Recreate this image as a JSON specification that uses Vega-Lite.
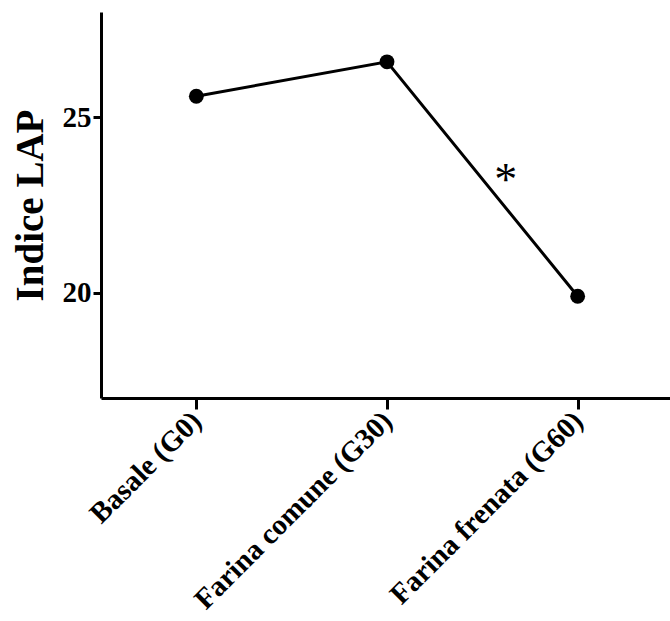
{
  "$schema": "https://vega.github.io/schema/vega-lite/v6.json",
  "autosize": "none",
  "width": 572,
  "height": 386,
  "padding": {"left": 101, "top": 12, "right": 0, "bottom": 223},
  "background": "white",
  "config": {"view": {"stroke": null}, "font": "Liberation Serif"},
  "data": {"values": [
    {"gruppo": "Basale (G0)", "lap": 25.6},
    {"gruppo": "Farina comune (G30)", "lap": 26.58},
    {"gruppo": "Farina frenata (G60)", "lap": 19.9}
  ]},
  "encoding": {
    "x": {"field": "gruppo", "type": "nominal", "sort": null,
      "scale": {"type": "point", "padding": 0.5},
      "axis": {"title": null, "labelAngle": -45, "labelLimit": 0, "labelFont": "Liberation Serif", "labelFontWeight": "bold", "labelFontSize": 29, "labelColor": "black", "domainColor": "black", "domainWidth": 3, "tickColor": "black", "tickWidth": 3, "tickSize": 11, "labelPadding": 7, "labelAlign": "right", "labelBaseline": "middle"}},
    "y": {"field": "lap", "type": "quantitative",
      "scale": {"domain": [17, 28], "nice": false, "zero": false},
      "axis": {"title": "Indice LAP", "values": [20, 25], "grid": false, "titleFont": "Liberation Serif", "titleFontWeight": "bold", "titleFontSize": 39, "titleColor": "black", "titlePadding": 12, "labelFont": "Liberation Serif", "labelFontWeight": "bold", "labelFontSize": 29, "labelColor": "black", "domainColor": "black", "domainWidth": 3, "tickColor": "black", "tickWidth": 3, "tickSize": 8, "labelPadding": 2}}
  },
  "layer": [
    {"mark": {"type": "line", "color": "black", "strokeWidth": 3}},
    {"mark": {"type": "point", "filled": true, "color": "black", "size": 220, "opacity": 1}},
    {"data": {"values": [{"gruppo": "Farina frenata (G60)", "lap": 23.44, "label": "*"}]},
     "mark": {"type": "text", "dx": -72, "fontSize": 46, "font": "Liberation Serif", "color": "black", "baseline": "middle", "dy": 9},
     "encoding": {"text": {"field": "label"}}}
  ]
}
